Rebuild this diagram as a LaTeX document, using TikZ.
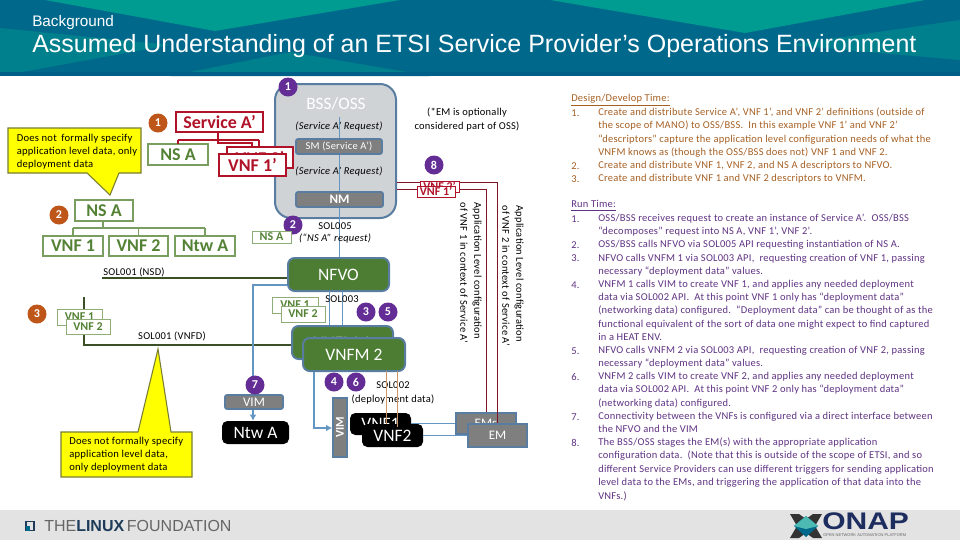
\documentclass[tikz,border=0pt]{standalone}
\usepackage{fontspec}
\setmainfont{Carlito}
\newfontfamily\titlefont{Liberation Sans}
\newfontfamily\tf[LetterSpace=2.3]{Carlito}
\usetikzlibrary{arrows.meta,calc}
\definecolor{headblue}{RGB}{0,104,139}
\definecolor{headteal}{RGB}{0,155,145}
\definecolor{headmid}{RGB}{0,128,140}
\definecolor{headlow}{RGB}{0,95,135}
\definecolor{foot}{RGB}{227,227,227}
\definecolor{gstroke}{RGB}{122,158,96}
\definecolor{gtext}{RGB}{84,130,53}
\definecolor{redb}{RGB}{176,18,40}
\definecolor{borderb}{RGB}{88,125,160}
\definecolor{lineb}{RGB}{100,150,195}
\definecolor{dgreen}{RGB}{60,80,40}
\definecolor{ngreen}{RGB}{76,125,50}
\definecolor{orangec}{RGB}{190,85,25}
\definecolor{purplec}{RGB}{100,45,150}
\definecolor{callout}{RGB}{255,255,0}
\definecolor{calloutb}{RGB}{120,125,50}
\definecolor{redl}{RGB}{130,20,40}
\definecolor{orangel}{RGB}{205,150,100}
\definecolor{design}{RGB}{165,95,35}
\definecolor{runt}{RGB}{95,50,130}
\definecolor{grayf}{RGB}{127,127,127}
\definecolor{bssf}{RGB}{208,211,214}
\definecolor{lfblue}{RGB}{30,60,90}
\definecolor{onapblue}{RGB}{30,45,95}
\newlength{\ux}\setlength{\ux}{0.75pt}
\newcommand{\fs}[1]{\fontsize{#1\ux}{#1\ux}\selectfont}
\tikzset{
 x=0.75pt,y=-0.75pt,
 gbox/.style={draw=gstroke,line width=1.5pt,fill=white,text=gtext,inner sep=0pt,font=\fs{18}\bfseries},
 gsmall/.style={draw=gstroke!85,line width=0.6pt,fill=white,text=gtext,inner sep=0pt,font=\fs{12}\bfseries},
 rbox/.style={draw=redb,line width=1.5pt,fill=white,text=redb,inner sep=0pt,font=\fs{18}\bfseries},
 rsmall/.style={draw=redb,line width=0.7pt,fill=white,text=redb,inner sep=0pt,font=\fs{12}\bfseries},
 graybar/.style={draw=borderb,line width=1.3pt,fill=grayf,text=white,inner sep=0pt,rounded corners=1.5pt},
 greenb/.style={draw=borderb,line width=1.5pt,fill=ngreen,text=white,inner sep=0pt,rounded corners=5pt,font=\fs{17.5}},
 blackb/.style={fill=black,text=white,inner sep=0pt,rounded corners=4pt,font=\fs{17.5}},
 oc/.style={circle,fill=orangec,text=white,inner sep=0pt,minimum size=19\ux,font=\fs{12}\bfseries},
 pc/.style={circle,fill=purplec,text=white,inner sep=0pt,minimum size=19\ux,font=\fs{12}\bfseries},
 lab/.style={inner sep=0pt,text=black,font=\tf\fs{10.5},align=center},
 labi/.style={lab,font=\tf\fs{10.5}\itshape},
 rot/.style={lab,rotate=-90,anchor=west,font=\tf\fs{10.45}},
 ttree/.style={draw=gstroke,line width=0.8pt},
 rtree/.style={draw=redb,line width=0.8pt},
 dg/.style={draw=dgreen,line width=1.5pt},
 bl/.style={draw=lineb,line width=1.5pt},
 blt/.style={draw=lineb,line width=0.75pt},
 arr/.style={-{Latex[length=4.5pt,width=5pt]}},
 rl/.style={draw=redl,line width=0.75pt},
 ol/.style={draw=orangel,line width=0.75pt},
 coln/.style={fill=callout,draw=calloutb,line width=0.8pt},
 ctext/.style={inner sep=0pt,anchor=west,text=black,font=\tf\fs{10.6}},
 tln/.style={inner sep=0pt,anchor=west,font=\tf\fs{10.5}},
}
\newcount\tlc
\newcommand{\tl}[4]{\global\advance\tlc by 1 \node[tln,text=#1] (t\the\tlc) at (#2,#3) {#4};}
\newcommand{\boxn}[7]{\node[#2,minimum width=#5\ux-#3\ux,minimum height=#6\ux-#4\ux] (#1) at ({(#3+#5)/2},{(#4+#6)/2}) {#7};}
\begin{document}
\begin{tikzpicture}
\useasboundingbox (0,0) rectangle (960,540);
% header
\fill[headblue] (0,0) rectangle (960,76);
\fill[headteal] (45,0) -- (400,0) -- (215,31) -- cycle;
\fill[headteal] (550,0) -- (925,0) -- (745,33) -- cycle;
\fill[headmid] (0,28) -- (170,45) -- (0,76) -- cycle;
\fill[headmid] (960,20) -- (960,60) -- (790,45) -- cycle;
\fill[headmid] (170,76) -- (290,52) -- (430,76) -- cycle;
\fill[headlow] (0,76) -- (960,76) -- (960,72) -- (0,72) -- cycle;
\fill[foot] (0,510) rectangle (960,540);
\node[inner sep=0pt,anchor=west,text=white,font=\titlefont\fs{15.3}] (bg) at (32,23) {Background};
\node[inner sep=0pt,anchor=west,text=white,font=\titlefont\fs{25}] (title) at (32,46) {Assumed Understanding of an ETSI Service Provider’s Operations Environment};
% BSS
\boxn{bss}{draw=borderb,line width=1.5pt,fill=bssf,rounded corners=12pt}{275}{84}{396}{218}{}
\coordinate (bsstop) at (339,117);
\node[inner sep=0pt,text=white,font=\fs{17.3}] (bsst) at (336,104) {BSS/OSS};
% NFVO
\boxn{nfvo}{greenb}{288}{258}{389}{291}{NFVO}
\draw[blt] (bsstop) -- (bsstop |- nfvo.north);
\node[labi] (req1) at (339,127) {(Service A’ Request)};
\boxn{sm}{graybar,font=\tf\fs{10.5}}{296}{139}{382}{154}{SM (Service A’)}
\node[labi] (req2) at (339,172) {(Service A’ Request)};
\boxn{nm}{graybar,font=\fs{13}\bfseries}{296}{192}{383}{207}{NM}
\node[pc] (p1) at (288,87) {1};
\node[pc] (p2) at (293,225) {2};
% service tree
\boxn{sa}{rbox}{176}{112}{263}{132}{Service A’}
\boxn{nsa1}{gbox}{148}{144}{208}{165}{NS A}
\coordinate (j1) at (218,140);
\coordinate (j2) at (218,143);
\draw[rtree] (sa.south -| j1) -- (j1) (178,140) -- (259,140);
\draw[rtree] (178,140) -- (178,144);
\draw[rtree] (259,140) -- (259,147);
\draw[rtree] (j1) -- (j2) -- (252,143) -- (252,154);
\boxn{v2p}{rbox}{227}{147}{293}{168}{VNF 2’}
\boxn{v1p}{rbox}{219}{154}{286}{176}{VNF 1’}
\node[oc] (o1) at (158,123) {1};
% callout 1
\coordinate (c1a) at (87,173); \coordinate (c1b) at (110,195); \coordinate (c1c) at (119,173);
\filldraw[coln] (8,128) -- (141,128) -- (141,173) -- (c1c) -- (c1b) -- (c1a) -- (8,173) -- cycle;
\node[ctext] (c1l1) at (16.5,139) {Does not\, formally specify};
\node[ctext] (c1l2) at (16.5,152) {application level data, only};
\node[ctext] (c1l3) at (16.5,165) {deployment data};
% NS A tree
\boxn{nsa2}{gbox}{75}{200}{133}{221}{NS A}
\boxn{v1}{gbox}{43}{236}{103}{256}{VNF 1}
\boxn{v2}{gbox}{109}{236}{168}{256}{VNF 2}
\boxn{ntw}{gbox}{175}{236}{235}{256}{Ntw A}
\coordinate (tb) at (103,228);
\draw[ttree] (nsa2.south -| tb) -- (tb) (v1.north |- tb) -- (ntw.north |- tb);
\draw[ttree] (v1.north) -- (v1.north |- tb) (v2.north) -- (v2.north |- tb) (ntw.north) -- (ntw.north |- tb);
\node[oc] (o2) at (59,215) {2};
\boxn{nss}{gsmall}{252}{231}{291}{243}{NS A}
\node[lab] (s5) at (335,226) {SOL005};
\node[labi] (s5b) at (335,239) {(“NS A” request)};
% SOL001
\coordinate (n0) at (102,278);
\draw[dg] (n0) -- (nfvo.west |- n0);
\node[lab] (s1n) at (134,272) {SOL001 (NSD)};
\boxn{vnfm1}{greenb}{292}{326}{393}{359}{VNFM 1}
\coordinate (v0) at (84,297); \coordinate (v1c) at (84,345);
\draw[dg] (v0) -- (v1c) -- (vnfm1.west |- v1c);
\boxn{s1a}{gsmall}{57}{309}{102}{325}{VNF 1}
\boxn{s1b}{gsmall}{66}{319}{110}{334}{VNF 2}
\node[oc] (o3) at (37,314) {3};
\node[lab] (s1v) at (172,336) {SOL001 (VNFD)};
% callout 2
\coordinate (c2a) at (138,432); \coordinate (c2b) at (158,349); \coordinate (c2c) at (171,432);
\filldraw[coln] (61,432) -- (c2a) -- (c2b) -- (c2c) -- (192,432) -- (192,477) -- (61,477) -- cycle;
\node[ctext] (c2l1) at (69,442) {Does not formally specify};
\node[ctext] (c2l2) at (69,455) {application level data,};
\node[ctext] (c2l3) at (69,468) {only deployment data};
% VIM left
\boxn{ntwb}{blackb}{222}{421}{289}{444}{Ntw A}
\coordinate (b0) at (253,285);
\draw[bl,arr] (nfvo.west |- b0) -- (b0) -- (b0 |- ntwb.north);
\boxn{vimh}{graybar,font=\fs{13}}{225}{395}{283}{409}{VIM}
\node[pc] (p7) at (255,385) {7};
% VNF small
\boxn{n1a}{gsmall}{272}{297}{318}{313}{VNF 1}
\boxn{n1b}{gsmall}{281}{306}{325}{322}{VNF 2}
\coordinate (a1) at (329,291); \coordinate (a2) at (342,291);
\draw[blt] (a1) -- (a1 |- vnfm1.north);
\draw[blt] (a2) -- (a2 |- vnfm1.north);
\node[lab] (s3) at (342,299) {SOL003};
\node[pc] (p3) at (366,312) {3};
\node[pc] (p5) at (388,312) {5};
% VNFM 2
\boxn{vnfm2}{greenb}{303}{338}{405}{371}{VNFM 2}
% VIM vertical
\boxn{vimv}{graybar,font=\fs{12},rounded corners=0pt}{333}{398}{347}{457}{}
\node[inner sep=0pt,text=white,font=\fs{12}\bfseries,rotate=90] (vimt) at (vimv.center) {VIM};
\coordinate (g0) at (314,428);
\draw[bl,arr] (g0 |- vnfm2.south) -- (g0) -- (g0 -| vimv.west);
\node[pc] (p4) at (334,382) {4};
\node[pc] (p6) at (356,382) {6};
\node[lab] (s2) at (393,385) {SOL002};
\node[lab] (s2b) at (393,399) {(deployment data)};
% VNFs
\boxn{bv1}{blackb}{350}{413}{411}{435}{VNF1}
\boxn{bv2}{blackb}{362}{424}{423}{447}{VNF2}
\coordinate (or1) at (386,371); \coordinate (or2) at (397,371);
\draw[ol] (or1) -- (386,424);
\draw[ol] (or2) -- (397,427);
% EMs
\coordinate (r1) at (486,189); \coordinate (r2) at (497,182);
\boxn{ems}{graybar,rounded corners=0pt,font=\fs{13}}{456}{413}{516}{434}{EMs}
\draw[rl] (bss.east |- r1) -- (r1) -- (r1 |- ems.north);
\draw[rl] (bss.east |- r2) -- (r2) -- (497,424);
\boxn{em}{graybar,rounded corners=0pt,font=\fs{13}}{468}{424}{527}{447}{EM}
\draw[blt] (bv1.east |- 0,423) -- (ems.west |- 0,423);
\draw[blt] (bv2.east |- 0,435) -- (em.west |- 0,435);
\boxn{e2}{rsmall}{420}{181}{459}{192}{VNF 2’}
\boxn{e1}{rsmall}{417}{186}{455}{197}{VNF 1’}
\node[pc] (p8) at (434,165) {8};
\node[lab] (emn) at (467,119.5) {(*EM is optionally\\[2pt]considered part of OSS)};
\node[rot] (ra1) at (477,202) {Application Level configuration};
\node[rot] (ra2) at (464,202) {of VNF 1 in context of Service A’};
\node[rot] (rb1) at (519,205) {Application Level configuration};
\node[rot] (rb2) at (506,205) {of VNF 2 in context of Service A’};
% right text
\tl{design}{571}{100}{\underline{Design/Develop Time:}}
\tl{design}{571}{112.7}{1.} \tl{design}{598}{112.7}{Create and distribute Service A’, VNF 1’, and VNF 2’ definitions (outside of}
\tl{design}{598}{126}{the scope of MANO) to OSS/BSS.\ \ In this example VNF 1’ and VNF 2’}
\tl{design}{598}{139.3}{“descriptors” capture the application level configuration needs of what the}
\tl{design}{598}{152.6}{VNFM knows as (though the OSS/BSS does not) VNF 1 and VNF 2.}
\tl{design}{571}{165.7}{2.} \tl{design}{598}{165.7}{Create and distribute VNF 1, VNF 2, and NS A descriptors to NFVO.}
\tl{design}{571}{178.7}{3.} \tl{design}{598}{178.7}{Create and distribute VNF 1 and VNF 2 descriptors to VNFM.}
\tl{runt}{571}{205.7}{\underline{Run Time:}}
\tl{runt}{571}{219}{1.} \tl{runt}{598}{219}{OSS/BSS receives request to create an instance of Service A’.\ \ OSS/BSS}
\tl{runt}{598}{231.7}{“decomposes” request into NS A, VNF 1’, VNF 2’.}
\tl{runt}{571}{245}{2.} \tl{runt}{598}{245}{OSS/BSS calls NFVO via SOL005 API requesting instantiation of NS A.}
\tl{runt}{571}{258.3}{3.} \tl{runt}{598}{258.3}{NFVO calls VNFM 1 via SOL003 API,\ \ requesting creation of VNF 1, passing}
\tl{runt}{598}{271.7}{necessary “deployment data” values.}
\tl{runt}{571}{285}{4.} \tl{runt}{598}{285}{VNFM 1 calls VIM to create VNF 1, and applies any needed deployment}
\tl{runt}{598}{297.5}{data via SOL002 API.\ \ At this point VNF 1 only has “deployment data”}
\tl{runt}{598}{310.7}{(networking data) configured.\ \ “Deployment data” can be thought of as the}
\tl{runt}{598}{324.3}{functional equivalent of the sort of data one might expect to find captured}
\tl{runt}{598}{337.3}{in a HEAT ENV.}
\tl{runt}{571}{350.7}{5.} \tl{runt}{598}{350.7}{NFVO calls VNFM 2 via SOL003 API,\ \ requesting creation of VNF 2, passing}
\tl{runt}{598}{363.3}{necessary “deployment data” values.}
\tl{runt}{571}{376.7}{6.} \tl{runt}{598}{376.7}{VNFM 2 calls VIM to create VNF 2, and applies any needed deployment}
\tl{runt}{598}{390}{data via SOL002 API.\ \ At this point VNF 2 only has “deployment data”}
\tl{runt}{598}{403.3}{(networking data) configured.}
\tl{runt}{571}{416.7}{7.} \tl{runt}{598}{416.7}{Connectivity between the VNFs is configured via a direct interface between}
\tl{runt}{598}{429.3}{the NFVO and the VIM}
\tl{runt}{571}{442.7}{8.} \tl{runt}{598}{442.7}{The BSS/OSS stages the EM(s) with the appropriate application}
\tl{runt}{598}{456}{configuration data.\ \ (Note that this is outside of the scope of ETSI, and so}
\tl{runt}{598}{469.3}{different Service Providers can use different triggers for sending application}
\tl{runt}{598}{482.7}{level data to the EMs, and triggering the application of that data into the}
\tl{runt}{598}{496}{VNFs.)}
% footer logos
\node[inner sep=0pt,anchor=west,text=lfblue,font=\titlefont\fs{16}] (lf) at (44,526) {\textcolor{black!60}{THE}\textbf{LINUX}\,\textcolor{black!60}{FOUNDATION}};
\draw[lfblue,line width=1.2pt] (26,521.5) rectangle (34,530.5);
\fill[headblue] (26,526) rectangle (30,530.5);
\node[inner sep=0pt,anchor=west,text=onapblue,font=\titlefont\bfseries\fs{24}] (onap) at (822,521.5) {\scalebox{1.25}[1]{ONAP}};
\node[inner sep=0pt,anchor=west,text=black!60,font=\titlefont\fs{4}] (onapb) at (823,535) {OPEN NETWORK AUTOMATION PLATFORM};
\fill[black!80] (790,514) -- (799,514) -- (806,519) -- (813,514) -- (822,514) -- (815,526) -- (822,538) -- (813,538) -- (806,533) -- (799,538) -- (790,538) -- (797,526) -- cycle;
\fill[headblue] (806,516) -- (818,526) -- (806,537) -- (794,526) -- cycle;
\fill[headteal!70!white] (806,516) -- (818,526) -- (806,529) -- (794,526) -- cycle;
\end{tikzpicture}
\end{document}
